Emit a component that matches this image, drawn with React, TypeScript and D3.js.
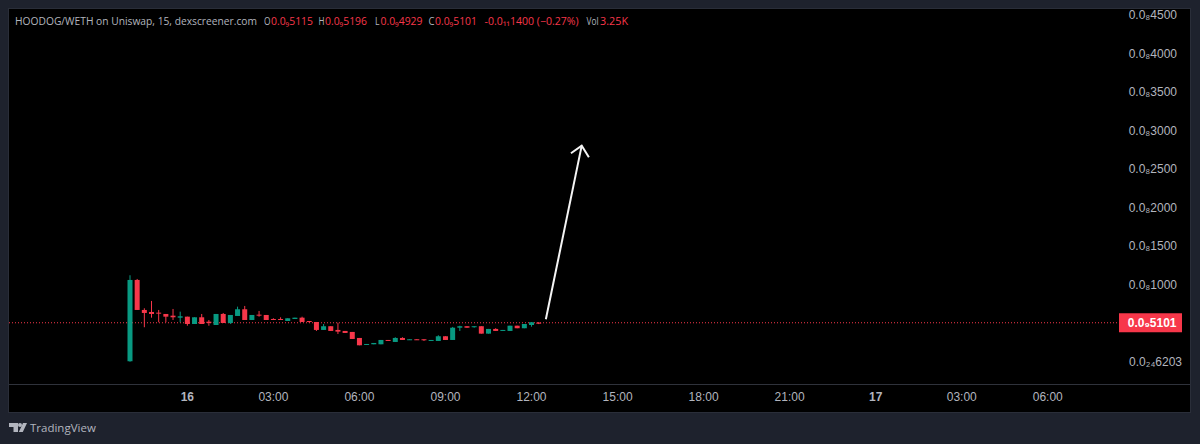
import React from "react";
import * as d3 from "d3";

// OHLC in units of 1e-8 (0.0₈xxxx style prices), one per 15-minute bar
const opens = [11,1065,676,650,641,624,602,576,589,494,581,524,481,624,507,598,685,546,615,611,559,559,533,559,576,533,520,417,465,417,404,391,313,222,231,231,287,261,313,287,296,296,278,274,335,287,446,465,465,465,369,430,404,404,472,439,481,511.5];
const highs = [1126,1078,698,793,676,624,689,654,589,581,624,546,624,637,611,719,728,611,663,611,568,581,568,576,589,533,520,494,465,511,404,391,313,235,248,287,287,322,322,296,296,296,287,348,335,456,472,465,465,465,430,439,417,472,472,494,517,519.6];
const lows = [5,676,452,576,517,517,546,517,472,494,494,472,481,507,494,598,546,546,589,546,546,546,533,559,520,511,404,417,404,365,378,300,218,222,231,231,278,261,287,287,287,274,278,274,287,287,404,446,446,369,369,404,404,404,439,439,459,492.9];
const closes = [1065,676,637,624,628,589,581,594,494,581,494,507,624,507,611,685,546,611,602,546,546,546,568,576,520,520,417,465,404,395,378,300,218,235,248,287,278,313,287,296,287,287,287,335,287,446,465,446,465,369,430,404,417,472,439,494,517,510.1];

const priceTicks = [4500,4000,3500,3000,2500,2000,1500,1000,0];
const priceLabels = ["0.0₈4500","0.0₈4000","0.0₈3500","0.0₈3000","0.0₈2500","0.0₈2000","0.0₈1500","0.0₈1000","0.0₂₄6203"];
const timeBars = [8,20,32,44,56,68,80,92,104,116,128];
const timeLabels = ["16","03:00","06:00","09:00","12:00","15:00","18:00","21:00","17","03:00","06:00"];
const boldTimes = ["16","17"];

const lastPrice = 510.1;
const lastLabel = "0.0₉5101";
// Hand-drawn arrow: [bar index, price]
const arrowShaft: [number, number][] = [[58,555],[63,2806]];
const arrowHead: [number, number][] = [[61.5,2707],[63,2806],[64,2655]];

const legendName = "HOODOG/WETH on Uniswap, 15, dexscreener.com";
const legendValues: [string, string, number, number, number][] = [
  ["O","0.0₉5115",264,6.5,271],
  ["H","0.0₉5196",318.5,6,325],
  ["L","0.0₉4929",375,4.5,380.5],
  ["C","0.0₉5101",428.5,6,435],
];
const legendChange = "-0.0₁₁1400 (−0.27%)";

const FONT = "'Liberation Sans', Arial, sans-serif";
const LEGEND_FONT = "'Open Sans', 'Liberation Sans', sans-serif";
const UP = "#089981";
const DOWN = "#f7374a";
const TEXT = "#b2b5be";

export default function App() {
  const x = d3.scaleLinear().domain([0, 128]).range([130, 130 + 128 * 7.17]);
  const y = d3.scaleLinear().domain([0, 4500]).range([362.1, 15]);
  const line = d3.line<[number, number]>().x((d) => x(d[0])).y((d) => y(d[1]));
  const bw = 5;
  const fit = { lengthAdjust: "spacingAndGlyphs" as const };
  return (
    <svg width={1200} height={444} style={{ position: "absolute", left: 0, top: 0, fontFamily: FONT }}>
      <rect width={1200} height={444} fill="#1e222d" />
      <rect x={8.5} y={8.5} width={1182} height={404} fill="#000" stroke="#2a2e39" />
      <line x1={9} x2={1190} y1={384.5} y2={384.5} stroke="#2f323b" />

      <line x1={9} x2={1120} y1={y(lastPrice)} y2={y(lastPrice)} stroke={DOWN} strokeWidth={1} strokeDasharray="1 2" />

      {opens.map((o, i) => {
        const c = closes[i];
        const color = c >= o ? UP : DOWN;
        const top = y(Math.max(o, c));
        const h = Math.max(1, Math.abs(y(o) - y(c)));
        return (
          <g key={i} fill={color}>
            <rect x={x(i) - 0.5} width={1} y={y(highs[i])} height={y(lows[i]) - y(highs[i])} />
            <rect x={x(i) - bw / 2} width={bw} y={top} height={h} />
          </g>
        );
      })}

      <path d={line(arrowShaft) ?? ""} stroke="#f5f5f5" strokeWidth={2} fill="none" />
      <path d={line(arrowHead) ?? ""} stroke="#f5f5f5" strokeWidth={2} fill="none" />

      <g fontSize={12} fill={TEXT} textAnchor="end">
        {priceTicks.map((t, i) => (
          <text key={i} x={t === 0 ? 1182 : 1177} y={y(t) + 4}>{priceLabels[i]}</text>
        ))}
      </g>
      <rect x={1119} y={y(lastPrice) - 9.5} width={63} height={19} fill={DOWN} />
      <text x={1176.5} y={y(lastPrice) + 4} fontSize={12} fontWeight={700} fill="#fff" textAnchor="end">{lastLabel}</text>

      <g fontSize={12} fill={TEXT} textAnchor="middle">
        {timeBars.map((b, i) => (
          <text key={i} x={x(b)} y={401} fontWeight={boldTimes.includes(timeLabels[i]) ? 700 : 400}>{timeLabels[i]}</text>
        ))}
      </g>

      <g fontSize={10.5} fill={TEXT} fontFamily={LEGEND_FONT}>
        <text x={15} y={25} textLength={242} {...fit}>{legendName}</text>
        {legendValues.map(([k, v, kx, kw, vx]) => (
          <g key={k}>
            <text x={kx} y={25} textLength={kw} {...fit}>{k}</text>
            <text x={vx} y={25} fill={DOWN} textLength={42} {...fit}>{v}</text>
          </g>
        ))}
        <text x={484.5} y={25} fill={DOWN} textLength={94} {...fit}>{legendChange}</text>
        <text x={586.5} y={25} textLength={12} {...fit}>Vol</text>
        <text x={600} y={25} fill={DOWN} textLength={28} {...fit}>3.25K</text>
      </g>

      <g fill={TEXT}>
        <path d="M9 423h9v9h-4.5v-5H9z" />
        <circle cx={20} cy={425} r={2} />
        <path d="M23 423h4l-4.2 9h-4z" />
        <text x={30} y={432} fontSize={11.5} fontFamily={LEGEND_FONT}>TradingView</text>
      </g>
    </svg>
  );
}
